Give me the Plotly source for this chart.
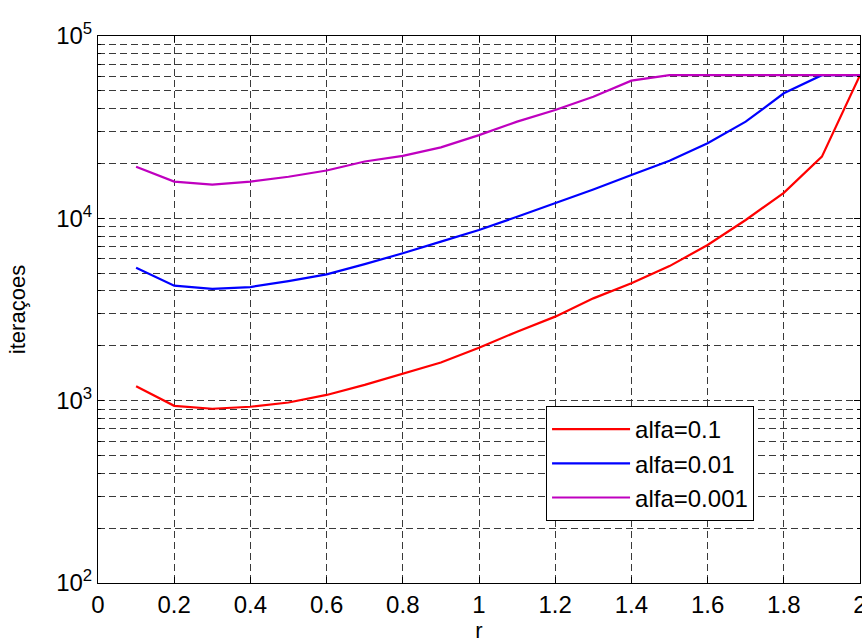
import plotly.graph_objects as go

r_vals = [0.1, 0.2, 0.3, 0.4, 0.5, 0.6, 0.7, 0.8, 0.9, 1.0,
          1.1, 1.2, 1.3, 1.4, 1.5, 1.6, 1.7, 1.8, 1.9, 2.0]
alfa_01 = [1200, 937, 903, 926, 977, 1075, 1220, 1412, 1620, 1950,
           2390, 2890, 3640, 4400, 5470, 7140, 9790, 13800, 21800, 61000]
alfa_001 = [5360, 4270, 4100, 4200, 4530, 4930, 5610, 6430, 7450, 8630,
            10200, 12100, 14400, 17300, 20700, 25800, 33900, 48500, 61000, 61000]
alfa_0001 = [19200, 15900, 15300, 15900, 16900, 18300, 20500, 22000, 24500, 28600,
             33900, 39300, 46400, 56900, 61000, 61000, 61000, 61000, 61000, 61000]
series_names = ["alfa=0.1", "alfa=0.01", "alfa=0.001"]
series_colors = ["#FF0000", "#0000FF", "#BF00BF"]

x_ticks = [0, 0.2, 0.4, 0.6, 0.8, 1, 1.2, 1.4, 1.6, 1.8, 2]
x_ticklabels = ["0", "0.2", "0.4", "0.6", "0.8", "1", "1.2", "1.4", "1.6", "1.8", "2"]
y_ticks = [100, 1000, 10000, 100000]
y_ticklabels = ["10<sup>2</sup>", "10<sup>3</sup>", "10<sup>4</sup>", "10<sup>5</sup>"]
y_minor = [m * 10 ** e for e in (2, 3, 4) for m in range(2, 10)]

FONT = "Liberation Sans, Arial, sans-serif"
grid_dash = "7px,4px"
grid_col = "#3a3a3a"

fig = go.Figure()
for name, ys, col in zip(series_names, [alfa_01, alfa_001, alfa_0001], series_colors):
    fig.add_trace(go.Scatter(x=r_vals, y=ys, mode="lines", name=name,
                             line=dict(color=col, width=2.2)))

fig.update_layout(
    width=862, height=644,
    margin=dict(l=98, r=2, t=36, b=61, autoexpand=False),
    paper_bgcolor="white", plot_bgcolor="white",
    font=dict(family=FONT, size=22, color="black"),
    showlegend=True,
    legend=dict(x=0.588, y=0.2185, xanchor="left", yanchor="middle",
                bgcolor="white", bordercolor="black", borderwidth=1,
                font=dict(size=24, family=FONT), itemwidth=78,
                tracegroupgap=0),
)
fig.update_xaxes(
    range=[0, 2], tickvals=x_ticks, ticktext=x_ticklabels,
    showline=True, linecolor="black", linewidth=1, mirror="allticks",
    ticks="inside", ticklen=6, tickcolor="black",
    showgrid=True, gridcolor=grid_col, griddash=grid_dash, gridwidth=1,
    zeroline=False, tickfont=dict(size=24), ticklabeloverflow="allow",
    automargin=False,
    title=dict(text="r", font=dict(size=22), standoff=2),
)
fig.update_yaxes(
    type="log", range=[2, 5], tickvals=y_ticks, ticktext=y_ticklabels,
    showline=True, linecolor="black", linewidth=1, mirror="allticks",
    ticks="inside", ticklen=6, tickcolor="black",
    showgrid=True, gridcolor=grid_col, griddash=grid_dash, gridwidth=1,
    zeroline=False, tickfont=dict(size=24), ticklabeloverflow="allow",
    automargin=False,
    minor=dict(tickvals=y_minor, showgrid=True, gridcolor=grid_col,
               griddash=grid_dash, gridwidth=1, ticks="inside", ticklen=3,
               tickcolor="black"),
    title=dict(text="iteraçoes", font=dict(size=22), standoff=24),
)

fig.write_html("out.html", config={"displayModeBar": False},
               post_script="document.body.style.margin='0';")
